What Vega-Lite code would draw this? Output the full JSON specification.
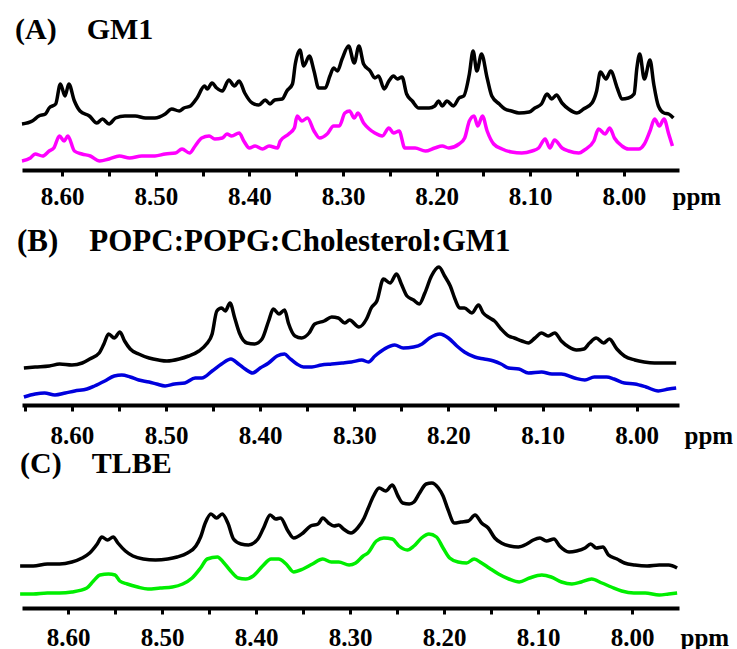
{
  "$schema": "https://vega.github.io/schema/vega-lite/v6.json",
  "background": "white",
  "padding": {"left": 13, "top": 14, "right": 2, "bottom": 2},
  "bounds": "flush",
  "spacing": 82,
  "resolve": {"scale": {"x": "independent", "y": "independent", "color": "independent"}},
  "config": {
    "font": "Liberation Serif",
    "view": {"stroke": null},
    "style": {"guide-label": {"font": "Liberation Serif", "fontWeight": "bold"}, "guide-title": {"font": "Liberation Serif", "fontWeight": "bold"}},
    "axisX": {
      "domainColor": "#000000", "domainWidth": 4, "tickColor": "#000000", "tickWidth": 3, "tickSize": 6,
      "labelFont": "Liberation Serif", "labelFontSize": 25, "labelFontWeight": "bold", "labelColor": "#000000",
      "labelOverlap": false, "labelFlush": false, "grid": false,
      "titleFont": "Liberation Serif", "titleFontSize": 25, "titleFontWeight": "bold", "titleColor": "#000000",
      "titleAlign": "left", "titleBaseline": "alphabetic", "titleAngle": 0
    },
    "title": {"font": "Liberation Serif", "fontSize": 30, "fontWeight": "bold", "color": "#000000", "anchor": "start", "frame": "group", "baseline": "alphabetic"}
  },
  "vconcat": [
    {
      "width": 657, "height": 131,
      "title": {"text": "(A)\u00a0\u00a0\u00a0\u00a0GM1", "dx": -7, "offset": -6},
      "data": {"values": [
        {"trace":"k","ppm":8.643,"y":46},{"trace":"k","ppm":8.632,"y":49},{"trace":"k","ppm":8.625,"y":54},{"trace":"k","ppm":8.618,"y":56},{"trace":"k","ppm":8.614,"y":62},{"trace":"k","ppm":8.607,"y":66},{"trace":"k","ppm":8.602,"y":86},{"trace":"k","ppm":8.597,"y":74},{"trace":"k","ppm":8.593,"y":86},{"trace":"k","ppm":8.587,"y":69},{"trace":"k","ppm":8.581,"y":59},{"trace":"k","ppm":8.571,"y":54},{"trace":"k","ppm":8.563,"y":47},{"trace":"k","ppm":8.557,"y":51},{"trace":"k","ppm":8.550,"y":46},{"trace":"k","ppm":8.543,"y":52},{"trace":"k","ppm":8.533,"y":54},{"trace":"k","ppm":8.522,"y":54},{"trace":"k","ppm":8.511,"y":52},{"trace":"k","ppm":8.501,"y":52},{"trace":"k","ppm":8.490,"y":56},{"trace":"k","ppm":8.483,"y":61},{"trace":"k","ppm":8.475,"y":59},{"trace":"k","ppm":8.470,"y":62},{"trace":"k","ppm":8.463,"y":64},{"trace":"k","ppm":8.456,"y":72},{"trace":"k","ppm":8.448,"y":84},{"trace":"k","ppm":8.445,"y":81},{"trace":"k","ppm":8.440,"y":87},{"trace":"k","ppm":8.435,"y":82},{"trace":"k","ppm":8.429,"y":79},{"trace":"k","ppm":8.422,"y":90},{"trace":"k","ppm":8.416,"y":84},{"trace":"k","ppm":8.411,"y":89},{"trace":"k","ppm":8.405,"y":77},{"trace":"k","ppm":8.397,"y":67},{"trace":"k","ppm":8.390,"y":65},{"trace":"k","ppm":8.383,"y":70},{"trace":"k","ppm":8.378,"y":66},{"trace":"k","ppm":8.373,"y":70},{"trace":"k","ppm":8.365,"y":71},{"trace":"k","ppm":8.360,"y":79},{"trace":"k","ppm":8.354,"y":86},{"trace":"k","ppm":8.351,"y":106},{"trace":"k","ppm":8.346,"y":120},{"trace":"k","ppm":8.342,"y":104},{"trace":"k","ppm":8.336,"y":114},{"trace":"k","ppm":8.331,"y":99},{"trace":"k","ppm":8.326,"y":82},{"trace":"k","ppm":8.319,"y":82},{"trace":"k","ppm":8.314,"y":94},{"trace":"k","ppm":8.310,"y":102},{"trace":"k","ppm":8.306,"y":99},{"trace":"k","ppm":8.301,"y":111},{"trace":"k","ppm":8.294,"y":124},{"trace":"k","ppm":8.288,"y":107},{"trace":"k","ppm":8.283,"y":124},{"trace":"k","ppm":8.278,"y":106},{"trace":"k","ppm":8.271,"y":99},{"trace":"k","ppm":8.266,"y":92},{"trace":"k","ppm":8.262,"y":94},{"trace":"k","ppm":8.256,"y":81},{"trace":"k","ppm":8.251,"y":89},{"trace":"k","ppm":8.246,"y":94},{"trace":"k","ppm":8.242,"y":91},{"trace":"k","ppm":8.237,"y":93},{"trace":"k","ppm":8.232,"y":76},{"trace":"k","ppm":8.226,"y":69},{"trace":"k","ppm":8.219,"y":62},{"trace":"k","ppm":8.208,"y":62},{"trace":"k","ppm":8.202,"y":64},{"trace":"k","ppm":8.198,"y":69},{"trace":"k","ppm":8.194,"y":64},{"trace":"k","ppm":8.189,"y":69},{"trace":"k","ppm":8.182,"y":64},{"trace":"k","ppm":8.176,"y":72},{"trace":"k","ppm":8.171,"y":74},{"trace":"k","ppm":8.165,"y":96},{"trace":"k","ppm":8.161,"y":119},{"trace":"k","ppm":8.157,"y":99},{"trace":"k","ppm":8.152,"y":116},{"trace":"k","ppm":8.146,"y":92},{"trace":"k","ppm":8.141,"y":74},{"trace":"k","ppm":8.133,"y":66},{"trace":"k","ppm":8.127,"y":61},{"trace":"k","ppm":8.120,"y":59},{"trace":"k","ppm":8.112,"y":57},{"trace":"k","ppm":8.101,"y":58},{"trace":"k","ppm":8.095,"y":62},{"trace":"k","ppm":8.088,"y":66},{"trace":"k","ppm":8.082,"y":76},{"trace":"k","ppm":8.077,"y":71},{"trace":"k","ppm":8.072,"y":75},{"trace":"k","ppm":8.066,"y":67},{"trace":"k","ppm":8.059,"y":61},{"trace":"k","ppm":8.050,"y":57},{"trace":"k","ppm":8.043,"y":61},{"trace":"k","ppm":8.034,"y":67},{"trace":"k","ppm":8.029,"y":79},{"trace":"k","ppm":8.025,"y":98},{"trace":"k","ppm":8.019,"y":91},{"trace":"k","ppm":8.014,"y":99},{"trace":"k","ppm":8.007,"y":82},{"trace":"k","ppm":8.002,"y":71},{"trace":"k","ppm":7.995,"y":72},{"trace":"k","ppm":7.989,"y":76},{"trace":"k","ppm":7.986,"y":102},{"trace":"k","ppm":7.983,"y":116},{"trace":"k","ppm":7.978,"y":91},{"trace":"k","ppm":7.972,"y":110},{"trace":"k","ppm":7.968,"y":86},{"trace":"k","ppm":7.963,"y":64},{"trace":"k","ppm":7.957,"y":57},{"trace":"k","ppm":7.952,"y":56},{"trace":"k","ppm":7.947,"y":52},
        {"trace":"c","ppm":8.643,"y":9},{"trace":"c","ppm":8.634,"y":12},{"trace":"c","ppm":8.629,"y":16},{"trace":"c","ppm":8.621,"y":14},{"trace":"c","ppm":8.614,"y":19},{"trace":"c","ppm":8.609,"y":22},{"trace":"c","ppm":8.603,"y":34},{"trace":"c","ppm":8.598,"y":29},{"trace":"c","ppm":8.594,"y":34},{"trace":"c","ppm":8.587,"y":19},{"trace":"c","ppm":8.579,"y":16},{"trace":"c","ppm":8.570,"y":14},{"trace":"c","ppm":8.560,"y":9},{"trace":"c","ppm":8.550,"y":11},{"trace":"c","ppm":8.539,"y":14},{"trace":"c","ppm":8.528,"y":12},{"trace":"c","ppm":8.515,"y":14},{"trace":"c","ppm":8.501,"y":14},{"trace":"c","ppm":8.490,"y":16},{"trace":"c","ppm":8.479,"y":17},{"trace":"c","ppm":8.472,"y":21},{"trace":"c","ppm":8.464,"y":17},{"trace":"c","ppm":8.458,"y":24},{"trace":"c","ppm":8.451,"y":32},{"trace":"c","ppm":8.443,"y":34},{"trace":"c","ppm":8.437,"y":31},{"trace":"c","ppm":8.429,"y":32},{"trace":"c","ppm":8.424,"y":36},{"trace":"c","ppm":8.419,"y":34},{"trace":"c","ppm":8.411,"y":37},{"trace":"c","ppm":8.406,"y":29},{"trace":"c","ppm":8.400,"y":22},{"trace":"c","ppm":8.394,"y":24},{"trace":"c","ppm":8.386,"y":21},{"trace":"c","ppm":8.379,"y":24},{"trace":"c","ppm":8.370,"y":22},{"trace":"c","ppm":8.367,"y":29},{"trace":"c","ppm":8.358,"y":36},{"trace":"c","ppm":8.352,"y":42},{"trace":"c","ppm":8.349,"y":54},{"trace":"c","ppm":8.344,"y":49},{"trace":"c","ppm":8.338,"y":52},{"trace":"c","ppm":8.331,"y":39},{"trace":"c","ppm":8.325,"y":32},{"trace":"c","ppm":8.317,"y":36},{"trace":"c","ppm":8.310,"y":44},{"trace":"c","ppm":8.304,"y":44},{"trace":"c","ppm":8.298,"y":57},{"trace":"c","ppm":8.293,"y":59},{"trace":"c","ppm":8.288,"y":52},{"trace":"c","ppm":8.284,"y":57},{"trace":"c","ppm":8.278,"y":47},{"trace":"c","ppm":8.272,"y":41},{"trace":"c","ppm":8.266,"y":37},{"trace":"c","ppm":8.258,"y":34},{"trace":"c","ppm":8.251,"y":42},{"trace":"c","ppm":8.246,"y":37},{"trace":"c","ppm":8.240,"y":39},{"trace":"c","ppm":8.234,"y":22},{"trace":"c","ppm":8.223,"y":22},{"trace":"c","ppm":8.212,"y":19},{"trace":"c","ppm":8.202,"y":22},{"trace":"c","ppm":8.194,"y":24},{"trace":"c","ppm":8.187,"y":22},{"trace":"c","ppm":8.176,"y":26},{"trace":"c","ppm":8.170,"y":32},{"trace":"c","ppm":8.165,"y":49},{"trace":"c","ppm":8.160,"y":54},{"trace":"c","ppm":8.156,"y":44},{"trace":"c","ppm":8.151,"y":54},{"trace":"c","ppm":8.146,"y":39},{"trace":"c","ppm":8.139,"y":26},{"trace":"c","ppm":8.130,"y":21},{"trace":"c","ppm":8.120,"y":18},{"trace":"c","ppm":8.109,"y":17},{"trace":"c","ppm":8.098,"y":19},{"trace":"c","ppm":8.091,"y":22},{"trace":"c","ppm":8.084,"y":31},{"trace":"c","ppm":8.079,"y":22},{"trace":"c","ppm":8.074,"y":30},{"trace":"c","ppm":8.066,"y":22},{"trace":"c","ppm":8.059,"y":19},{"trace":"c","ppm":8.048,"y":17},{"trace":"c","ppm":8.042,"y":20},{"trace":"c","ppm":8.032,"y":29},{"trace":"c","ppm":8.027,"y":41},{"trace":"c","ppm":8.020,"y":36},{"trace":"c","ppm":8.015,"y":42},{"trace":"c","ppm":8.010,"y":32},{"trace":"c","ppm":8.002,"y":24},{"trace":"c","ppm":7.995,"y":21},{"trace":"c","ppm":7.984,"y":21},{"trace":"c","ppm":7.978,"y":26},{"trace":"c","ppm":7.972,"y":39},{"trace":"c","ppm":7.967,"y":51},{"trace":"c","ppm":7.962,"y":44},{"trace":"c","ppm":7.957,"y":51},{"trace":"c","ppm":7.952,"y":36},{"trace":"c","ppm":7.948,"y":24}
      ]},
      "mark": {"type": "line", "strokeWidth": 3.5, "interpolate": "monotone"},
      "encoding": {
        "x": {"field": "ppm", "type": "quantitative",
          "scale": {"domain": [7.941, 8.643], "reverse": true, "nice": false, "zero": false},
          "axis": {"values": [8.6,8.55,8.5,8.45,8.4,8.35,8.3,8.25,8.2,8.15,8.1,8.05,8.0],
            "labelExpr": "abs(datum.value*10 - round(datum.value*10)) < 0.001 ? format(datum.value, '.2f') : ''",
            "labelFont": "Liberation Serif", "labelFontWeight": "bold", "titleFont": "Liberation Serif",
            "labelPadding": 8, "title": "ppm", "titleX": 650, "titleY": 34}},
        "y": {"field": "y", "type": "quantitative", "scale": {"domain": [0, 131], "nice": false}, "axis": null},
        "color": {"field": "trace", "type": "nominal", "scale": {"domain": ["k", "c"], "range": ["#000000", "#ff00ff"]}, "legend": null}
      }
    },
    {
      "width": 657, "height": 153,
      "title": {"text": "(B)\u00a0\u00a0\u00a0\u00a0POPC:POPG:Cholesterol:GM1", "fontSize": 31, "dx": -5, "offset": -6},
      "data": {"values": [
        {"trace":"k","ppm":8.651,"y":37},{"trace":"k","ppm":8.639,"y":38},{"trace":"k","ppm":8.624,"y":39},{"trace":"k","ppm":8.613,"y":41},{"trace":"k","ppm":8.600,"y":40},{"trace":"k","ppm":8.589,"y":42},{"trace":"k","ppm":8.581,"y":46},{"trace":"k","ppm":8.571,"y":52},{"trace":"k","ppm":8.566,"y":61},{"trace":"k","ppm":8.561,"y":71},{"trace":"k","ppm":8.555,"y":67},{"trace":"k","ppm":8.549,"y":73},{"trace":"k","ppm":8.544,"y":64},{"trace":"k","ppm":8.538,"y":56},{"trace":"k","ppm":8.529,"y":51},{"trace":"k","ppm":8.518,"y":47},{"trace":"k","ppm":8.508,"y":45},{"trace":"k","ppm":8.499,"y":44},{"trace":"k","ppm":8.486,"y":46},{"trace":"k","ppm":8.476,"y":49},{"trace":"k","ppm":8.465,"y":54},{"trace":"k","ppm":8.457,"y":61},{"trace":"k","ppm":8.451,"y":71},{"trace":"k","ppm":8.446,"y":94},{"trace":"k","ppm":8.441,"y":97},{"trace":"k","ppm":8.437,"y":94},{"trace":"k","ppm":8.432,"y":102},{"trace":"k","ppm":8.427,"y":87},{"trace":"k","ppm":8.422,"y":72},{"trace":"k","ppm":8.414,"y":62},{"trace":"k","ppm":8.406,"y":61},{"trace":"k","ppm":8.398,"y":66},{"trace":"k","ppm":8.391,"y":84},{"trace":"k","ppm":8.386,"y":96},{"trace":"k","ppm":8.380,"y":91},{"trace":"k","ppm":8.374,"y":95},{"trace":"k","ppm":8.370,"y":82},{"trace":"k","ppm":8.363,"y":69},{"trace":"k","ppm":8.356,"y":67},{"trace":"k","ppm":8.348,"y":72},{"trace":"k","ppm":8.342,"y":81},{"trace":"k","ppm":8.332,"y":84},{"trace":"k","ppm":8.324,"y":88},{"trace":"k","ppm":8.317,"y":87},{"trace":"k","ppm":8.310,"y":82},{"trace":"k","ppm":8.305,"y":85},{"trace":"k","ppm":8.295,"y":78},{"trace":"k","ppm":8.287,"y":86},{"trace":"k","ppm":8.282,"y":97},{"trace":"k","ppm":8.276,"y":104},{"trace":"k","ppm":8.269,"y":126},{"trace":"k","ppm":8.262,"y":122},{"trace":"k","ppm":8.255,"y":131},{"trace":"k","ppm":8.250,"y":121},{"trace":"k","ppm":8.244,"y":109},{"trace":"k","ppm":8.237,"y":105},{"trace":"k","ppm":8.231,"y":101},{"trace":"k","ppm":8.225,"y":112},{"trace":"k","ppm":8.218,"y":129},{"trace":"k","ppm":8.210,"y":138},{"trace":"k","ppm":8.204,"y":129},{"trace":"k","ppm":8.198,"y":119},{"trace":"k","ppm":8.193,"y":106},{"trace":"k","ppm":8.188,"y":97},{"trace":"k","ppm":8.183,"y":97},{"trace":"k","ppm":8.175,"y":92},{"trace":"k","ppm":8.168,"y":100},{"trace":"k","ppm":8.163,"y":92},{"trace":"k","ppm":8.156,"y":87},{"trace":"k","ppm":8.151,"y":84},{"trace":"k","ppm":8.144,"y":76},{"trace":"k","ppm":8.136,"y":69},{"trace":"k","ppm":8.130,"y":67},{"trace":"k","ppm":8.122,"y":64},{"trace":"k","ppm":8.115,"y":62},{"trace":"k","ppm":8.108,"y":67},{"trace":"k","ppm":8.101,"y":72},{"trace":"k","ppm":8.094,"y":69},{"trace":"k","ppm":8.087,"y":72},{"trace":"k","ppm":8.080,"y":64},{"trace":"k","ppm":8.072,"y":58},{"trace":"k","ppm":8.064,"y":55},{"trace":"k","ppm":8.056,"y":56},{"trace":"k","ppm":8.050,"y":62},{"trace":"k","ppm":8.043,"y":67},{"trace":"k","ppm":8.035,"y":62},{"trace":"k","ppm":8.029,"y":66},{"trace":"k","ppm":8.021,"y":56},{"trace":"k","ppm":8.013,"y":49},{"trace":"k","ppm":8.002,"y":45},{"trace":"k","ppm":7.992,"y":43},{"trace":"k","ppm":7.981,"y":42},{"trace":"k","ppm":7.970,"y":42},{"trace":"k","ppm":7.958,"y":42},
        {"trace":"c","ppm":8.651,"y":8},{"trace":"c","ppm":8.639,"y":11},{"trace":"c","ppm":8.629,"y":12},{"trace":"c","ppm":8.618,"y":10},{"trace":"c","ppm":8.607,"y":12},{"trace":"c","ppm":8.597,"y":14},{"trace":"c","ppm":8.584,"y":16},{"trace":"c","ppm":8.576,"y":19},{"trace":"c","ppm":8.565,"y":24},{"trace":"c","ppm":8.555,"y":29},{"trace":"c","ppm":8.547,"y":30},{"trace":"c","ppm":8.538,"y":28},{"trace":"c","ppm":8.529,"y":25},{"trace":"c","ppm":8.518,"y":23},{"trace":"c","ppm":8.510,"y":21},{"trace":"c","ppm":8.501,"y":19},{"trace":"c","ppm":8.491,"y":21},{"trace":"c","ppm":8.480,"y":22},{"trace":"c","ppm":8.469,"y":27},{"trace":"c","ppm":8.462,"y":27},{"trace":"c","ppm":8.451,"y":34},{"trace":"c","ppm":8.441,"y":41},{"trace":"c","ppm":8.431,"y":46},{"trace":"c","ppm":8.423,"y":41},{"trace":"c","ppm":8.416,"y":36},{"trace":"c","ppm":8.408,"y":32},{"trace":"c","ppm":8.400,"y":37},{"trace":"c","ppm":8.391,"y":42},{"trace":"c","ppm":8.382,"y":49},{"trace":"c","ppm":8.374,"y":51},{"trace":"c","ppm":8.369,"y":47},{"trace":"c","ppm":8.361,"y":41},{"trace":"c","ppm":8.354,"y":38},{"trace":"c","ppm":8.345,"y":38},{"trace":"c","ppm":8.335,"y":40},{"trace":"c","ppm":8.324,"y":41},{"trace":"c","ppm":8.313,"y":42},{"trace":"c","ppm":8.303,"y":43},{"trace":"c","ppm":8.292,"y":45},{"trace":"c","ppm":8.285,"y":43},{"trace":"c","ppm":8.278,"y":49},{"trace":"c","ppm":8.268,"y":56},{"trace":"c","ppm":8.257,"y":60},{"trace":"c","ppm":8.248,"y":57},{"trace":"c","ppm":8.237,"y":58},{"trace":"c","ppm":8.228,"y":61},{"trace":"c","ppm":8.220,"y":67},{"trace":"c","ppm":8.209,"y":71},{"trace":"c","ppm":8.200,"y":67},{"trace":"c","ppm":8.191,"y":59},{"trace":"c","ppm":8.183,"y":53},{"trace":"c","ppm":8.172,"y":48},{"trace":"c","ppm":8.162,"y":46},{"trace":"c","ppm":8.152,"y":44},{"trace":"c","ppm":8.144,"y":41},{"trace":"c","ppm":8.136,"y":37},{"trace":"c","ppm":8.125,"y":36},{"trace":"c","ppm":8.115,"y":32},{"trace":"c","ppm":8.101,"y":33},{"trace":"c","ppm":8.090,"y":31},{"trace":"c","ppm":8.080,"y":31},{"trace":"c","ppm":8.066,"y":27},{"trace":"c","ppm":8.055,"y":25},{"trace":"c","ppm":8.045,"y":28},{"trace":"c","ppm":8.032,"y":28},{"trace":"c","ppm":8.024,"y":26},{"trace":"c","ppm":8.013,"y":22},{"trace":"c","ppm":8.002,"y":21},{"trace":"c","ppm":7.990,"y":18},{"trace":"c","ppm":7.977,"y":14},{"trace":"c","ppm":7.966,"y":16},{"trace":"c","ppm":7.958,"y":17}
      ]},
      "mark": {"type": "line", "strokeWidth": 3.5, "interpolate": "monotone"},
      "encoding": {
        "x": {"field": "ppm", "type": "quantitative",
          "scale": {"domain": [7.955, 8.653], "reverse": true, "nice": false, "zero": false},
          "axis": {"values": [8.65,8.6,8.55,8.5,8.45,8.4,8.35,8.3,8.25,8.2,8.15,8.1,8.05,8.0],
            "labelExpr": "abs(datum.value*10 - round(datum.value*10)) < 0.001 ? format(datum.value, '.2f') : ''",
            "labelFont": "Liberation Serif", "labelFontWeight": "bold", "titleFont": "Liberation Serif",
            "labelPadding": 12, "title": "ppm", "titleX": 662, "titleY": 38}},
        "y": {"field": "y", "type": "quantitative", "scale": {"domain": [0, 153], "nice": false}, "axis": null},
        "color": {"field": "trace", "type": "nominal", "scale": {"domain": ["k", "c"], "range": ["#000000", "#0000dd"]}, "legend": null}
      }
    },
    {
      "width": 657, "height": 121,
      "title": {"text": "(C)\u00a0\u00a0\u00a0\u00a0TLBE", "dx": -2, "offset": -3},
      "data": {"values": [
        {"trace":"k","ppm":8.651,"y":42},{"trace":"k","ppm":8.637,"y":42},{"trace":"k","ppm":8.622,"y":44},{"trace":"k","ppm":8.609,"y":44},{"trace":"k","ppm":8.596,"y":46},{"trace":"k","ppm":8.585,"y":50},{"trace":"k","ppm":8.577,"y":55},{"trace":"k","ppm":8.569,"y":64},{"trace":"k","ppm":8.564,"y":71},{"trace":"k","ppm":8.558,"y":68},{"trace":"k","ppm":8.552,"y":71},{"trace":"k","ppm":8.547,"y":65},{"trace":"k","ppm":8.539,"y":57},{"trace":"k","ppm":8.531,"y":52},{"trace":"k","ppm":8.520,"y":49},{"trace":"k","ppm":8.507,"y":48},{"trace":"k","ppm":8.494,"y":49},{"trace":"k","ppm":8.484,"y":51},{"trace":"k","ppm":8.473,"y":55},{"trace":"k","ppm":8.464,"y":62},{"trace":"k","ppm":8.459,"y":71},{"trace":"k","ppm":8.454,"y":85},{"trace":"k","ppm":8.448,"y":94},{"trace":"k","ppm":8.442,"y":90},{"trace":"k","ppm":8.436,"y":94},{"trace":"k","ppm":8.430,"y":85},{"trace":"k","ppm":8.424,"y":69},{"trace":"k","ppm":8.416,"y":64},{"trace":"k","ppm":8.408,"y":63},{"trace":"k","ppm":8.398,"y":69},{"trace":"k","ppm":8.392,"y":80},{"trace":"k","ppm":8.385,"y":93},{"trace":"k","ppm":8.379,"y":89},{"trace":"k","ppm":8.374,"y":90},{"trace":"k","ppm":8.366,"y":77},{"trace":"k","ppm":8.360,"y":70},{"trace":"k","ppm":8.350,"y":75},{"trace":"k","ppm":8.342,"y":82},{"trace":"k","ppm":8.334,"y":84},{"trace":"k","ppm":8.329,"y":90},{"trace":"k","ppm":8.323,"y":85},{"trace":"k","ppm":8.317,"y":82},{"trace":"k","ppm":8.312,"y":83},{"trace":"k","ppm":8.307,"y":79},{"trace":"k","ppm":8.299,"y":75},{"trace":"k","ppm":8.292,"y":80},{"trace":"k","ppm":8.285,"y":90},{"trace":"k","ppm":8.281,"y":99},{"trace":"k","ppm":8.275,"y":112},{"trace":"k","ppm":8.269,"y":120},{"trace":"k","ppm":8.262,"y":117},{"trace":"k","ppm":8.255,"y":123},{"trace":"k","ppm":8.249,"y":112},{"trace":"k","ppm":8.244,"y":105},{"trace":"k","ppm":8.237,"y":104},{"trace":"k","ppm":8.232,"y":106},{"trace":"k","ppm":8.226,"y":115},{"trace":"k","ppm":8.219,"y":124},{"trace":"k","ppm":8.213,"y":125},{"trace":"k","ppm":8.206,"y":120},{"trace":"k","ppm":8.201,"y":112},{"trace":"k","ppm":8.196,"y":99},{"trace":"k","ppm":8.189,"y":85},{"trace":"k","ppm":8.182,"y":86},{"trace":"k","ppm":8.174,"y":87},{"trace":"k","ppm":8.167,"y":93},{"trace":"k","ppm":8.160,"y":85},{"trace":"k","ppm":8.153,"y":80},{"trace":"k","ppm":8.146,"y":70},{"trace":"k","ppm":8.139,"y":65},{"trace":"k","ppm":8.130,"y":62},{"trace":"k","ppm":8.121,"y":61},{"trace":"k","ppm":8.112,"y":64},{"trace":"k","ppm":8.105,"y":68},{"trace":"k","ppm":8.098,"y":70},{"trace":"k","ppm":8.091,"y":67},{"trace":"k","ppm":8.083,"y":69},{"trace":"k","ppm":8.077,"y":62},{"trace":"k","ppm":8.067,"y":56},{"trace":"k","ppm":8.059,"y":57},{"trace":"k","ppm":8.050,"y":60},{"trace":"k","ppm":8.044,"y":64},{"trace":"k","ppm":8.038,"y":60},{"trace":"k","ppm":8.031,"y":61},{"trace":"k","ppm":8.025,"y":53},{"trace":"k","ppm":8.016,"y":49},{"trace":"k","ppm":8.008,"y":45},{"trace":"k","ppm":7.997,"y":43},{"trace":"k","ppm":7.984,"y":42},{"trace":"k","ppm":7.971,"y":43},{"trace":"k","ppm":7.961,"y":43},{"trace":"k","ppm":7.952,"y":40},
        {"trace":"c","ppm":8.651,"y":14},{"trace":"c","ppm":8.637,"y":14},{"trace":"c","ppm":8.622,"y":15},{"trace":"c","ppm":8.609,"y":15},{"trace":"c","ppm":8.596,"y":16},{"trace":"c","ppm":8.580,"y":20},{"trace":"c","ppm":8.573,"y":27},{"trace":"c","ppm":8.566,"y":33},{"trace":"c","ppm":8.557,"y":34},{"trace":"c","ppm":8.550,"y":33},{"trace":"c","ppm":8.545,"y":27},{"trace":"c","ppm":8.537,"y":24},{"trace":"c","ppm":8.526,"y":21},{"trace":"c","ppm":8.515,"y":19},{"trace":"c","ppm":8.502,"y":20},{"trace":"c","ppm":8.489,"y":21},{"trace":"c","ppm":8.478,"y":24},{"trace":"c","ppm":8.468,"y":30},{"trace":"c","ppm":8.459,"y":40},{"trace":"c","ppm":8.452,"y":49},{"trace":"c","ppm":8.441,"y":51},{"trace":"c","ppm":8.435,"y":46},{"trace":"c","ppm":8.427,"y":37},{"trace":"c","ppm":8.419,"y":30},{"trace":"c","ppm":8.411,"y":29},{"trace":"c","ppm":8.403,"y":32},{"trace":"c","ppm":8.393,"y":42},{"trace":"c","ppm":8.384,"y":49},{"trace":"c","ppm":8.376,"y":49},{"trace":"c","ppm":8.368,"y":44},{"trace":"c","ppm":8.360,"y":36},{"trace":"c","ppm":8.350,"y":39},{"trace":"c","ppm":8.340,"y":44},{"trace":"c","ppm":8.329,"y":49},{"trace":"c","ppm":8.320,"y":46},{"trace":"c","ppm":8.312,"y":46},{"trace":"c","ppm":8.301,"y":43},{"trace":"c","ppm":8.294,"y":45},{"trace":"c","ppm":8.286,"y":52},{"trace":"c","ppm":8.281,"y":55},{"trace":"c","ppm":8.272,"y":67},{"trace":"c","ppm":8.264,"y":70},{"trace":"c","ppm":8.255,"y":69},{"trace":"c","ppm":8.248,"y":62},{"trace":"c","ppm":8.239,"y":58},{"trace":"c","ppm":8.232,"y":62},{"trace":"c","ppm":8.224,"y":70},{"trace":"c","ppm":8.216,"y":74},{"trace":"c","ppm":8.208,"y":71},{"trace":"c","ppm":8.201,"y":60},{"trace":"c","ppm":8.194,"y":50},{"trace":"c","ppm":8.185,"y":46},{"trace":"c","ppm":8.176,"y":45},{"trace":"c","ppm":8.168,"y":49},{"trace":"c","ppm":8.160,"y":45},{"trace":"c","ppm":8.152,"y":40},{"trace":"c","ppm":8.142,"y":34},{"trace":"c","ppm":8.131,"y":29},{"trace":"c","ppm":8.120,"y":26},{"trace":"c","ppm":8.109,"y":30},{"trace":"c","ppm":8.096,"y":33},{"trace":"c","ppm":8.086,"y":31},{"trace":"c","ppm":8.075,"y":26},{"trace":"c","ppm":8.064,"y":24},{"trace":"c","ppm":8.054,"y":26},{"trace":"c","ppm":8.043,"y":29},{"trace":"c","ppm":8.032,"y":25},{"trace":"c","ppm":8.022,"y":21},{"trace":"c","ppm":8.011,"y":17},{"trace":"c","ppm":7.998,"y":15},{"trace":"c","ppm":7.986,"y":15},{"trace":"c","ppm":7.971,"y":13},{"trace":"c","ppm":7.961,"y":14},{"trace":"c","ppm":7.952,"y":15}
      ]},
      "mark": {"type": "line", "strokeWidth": 3.5, "interpolate": "monotone"},
      "encoding": {
        "x": {"field": "ppm", "type": "quantitative",
          "scale": {"domain": [7.950, 8.649], "reverse": true, "nice": false, "zero": false},
          "axis": {"values": [8.6,8.55,8.5,8.45,8.4,8.35,8.3,8.25,8.2,8.15,8.1,8.05,8.0],
            "labelExpr": "abs(datum.value*10 - round(datum.value*10)) < 0.001 ? format(datum.value, '.2f') : ''",
            "labelFont": "Liberation Serif", "labelFontWeight": "bold", "titleFont": "Liberation Serif",
            "labelPadding": 11, "title": "ppm", "titleX": 658, "titleY": 37}},
        "y": {"field": "y", "type": "quantitative", "scale": {"domain": [0, 121], "nice": false}, "axis": null},
        "color": {"field": "trace", "type": "nominal", "scale": {"domain": ["k", "c"], "range": ["#000000", "#00ee00"]}, "legend": null}
      }
    }
  ]
}
